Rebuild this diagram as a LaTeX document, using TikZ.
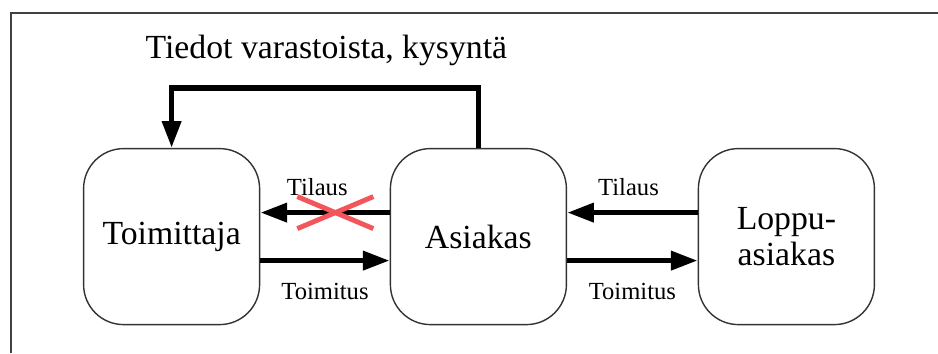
\documentclass[tikz,border=0pt]{standalone}
\usepackage{fontspec}
\setmainfont{Liberation Serif}
\usetikzlibrary{arrows.meta,positioning,calc}
\definecolor{crossred}{RGB}{242,85,90}
\tikzset{box/.style={draw=black!80,line width=1pt,rounded corners=1cm,minimum width=4.4cm,minimum height=4.4cm,align=center,font=\fontsize{24}{25}\selectfont}}
\tikzset{flow/.style={line width=4pt,-{Triangle[length=19pt,width=13pt]}}}
\tikzset{lbl/.style={font=\fontsize{17.5}{20}\selectfont}}

\begin{document}
\begin{tikzpicture}[>=Triangle]
\useasboundingbox (0,0) rectangle (23.45,8.825);
    % frame
    \draw[black!75,line width=2pt] (0.275,0) -- (0.275,8.5) -- (23.45,8.5);

    \node[box] (toim) at (4.29,2.91) {Toimittaja};
    \node[box] (asia) at (11.96,2.91) {Asiakas};
    \node[box] (loppu) at (19.66,2.91) {Loppu-\\asiakas};
    \node[font=\fontsize{24}{25}\selectfont] (tiedot) at (8.16,7.57) {Tiedot varastoista, kysyntä};

    % orders and deliveries
    \draw[flow] ([yshift=0.6cm]asia.west) -- coordinate[pos=0.42] (cut) node[lbl,above=7pt,pos=0.56] (tilaus1) {Tilaus} ([yshift=0.6cm]toim.east);
    \draw[flow] ([yshift=-0.6cm]toim.east) -- node[lbl,below=11pt] (toimitus1) {Toimitus} ([yshift=-0.6cm]asia.west);
    \draw[flow] ([yshift=0.6cm]loppu.west) -- node[lbl,above=7pt,pos=0.53] (tilaus2) {Tilaus} ([yshift=0.6cm]asia.east);
    \draw[flow] ([yshift=-0.6cm]asia.east) -- node[lbl,below=11pt] (toimitus2) {Toimitus} ([yshift=-0.6cm]loppu.west);

    % information back to the supplier
    \draw[flow] (asia.north) -- ++(0,1.5) -| (toim.north);

    % crossed out order
    \draw[crossred,line width=3.5pt] ($(cut)+(-0.95,0.4)$) -- ($(cut)+(0.95,-0.4)$);
    \draw[crossred,line width=3.5pt] ($(cut)+(-0.95,-0.4)$) -- ($(cut)+(0.95,0.4)$);
\end{tikzpicture}
\end{document}
